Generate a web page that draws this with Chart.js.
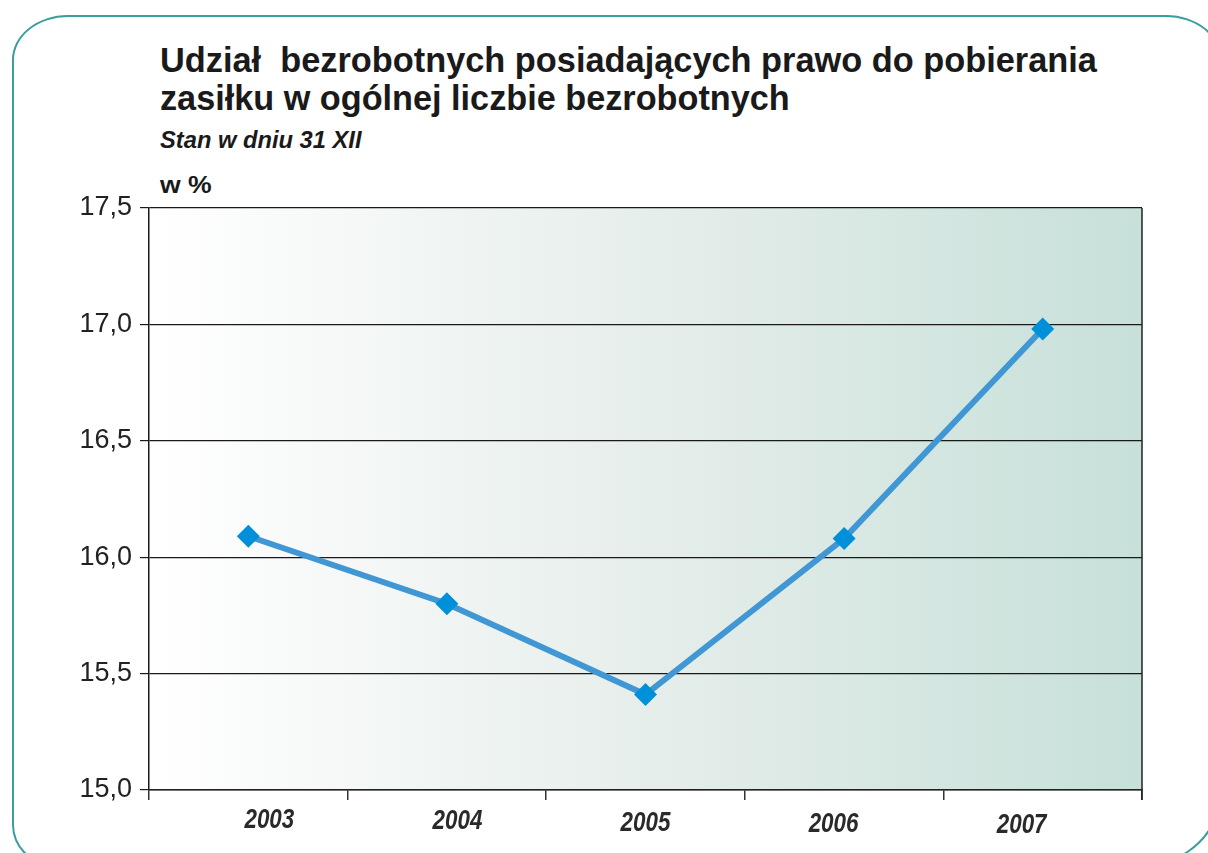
<!DOCTYPE html>
<html>
<head>
<meta charset="utf-8">
<script src="https://cdn.jsdelivr.net/npm/chart.js@4.4.1/dist/chart.umd.min.js"></script>
<style>
  html, body { margin:0; padding:0; background:#ffffff; }
  body { width:1208px; height:853px; position:relative; overflow:hidden; font-family:"Liberation Sans", Arial, sans-serif; }
  #frame { position:absolute; left:12px; top:15px; width:1210px; height:850px; box-sizing:border-box;
    border:2px solid #3a9e9b; border-radius:56px 56px 75px 40px / 45px 45px 75px 40px; }
  .t { position:absolute; left:160px; color:#1a1a1a; white-space:nowrap; transform-origin:0 0; }
  #t1 { top:40px; font-size:35px; font-weight:bold; }
  #t2 { top:78px; font-size:35px; font-weight:bold; }
  #t3 { top:127px; font-size:23px; font-weight:bold; font-style:italic; }
  #t4 { top:172px; font-size:23px; font-weight:bold; }
  #c { position:absolute; left:0; top:0; }
</style>
</head>
<body>
<div id="frame"></div>
<div class="t" id="t1">Udział&nbsp; bezrobotnych posiadających prawo do pobierania</div>
<div class="t" id="t2">zasiłku w ogólnej liczbie bezrobotnych</div>
<div class="t" id="t3">Stan w dniu 31 XII</div>
<div class="t" id="t4">w %</div>
<canvas id="c" width="1208" height="853"></canvas>
<script>
// ---- data ----
const years = ["2003", "2004", "2005", "2006", "2007"];
const shareEntitled = [16.09, 15.80, 15.41, 16.08, 16.98];
const yTicks = [15.0, 15.5, 16.0, 16.5, 17.0, 17.5];

// fit titles to measured widths in the reference
function fit(id, w) {
  const el = document.getElementById(id);
  const s = w / el.offsetWidth;
  el.style.transform = "scaleX(" + s + ")";
}
fit("t1", 937); fit("t2", 630); fit("t3", 202); fit("t4", 52);

const bgPlugin = {
  id: "bg",
  beforeDraw(chart) {
    const {ctx, chartArea:a} = chart;
    const g = ctx.createLinearGradient(a.left, 0, a.right, 0);
    g.addColorStop(0, "#ffffff");
    g.addColorStop(0.5, "#e6eeeb");
    g.addColorStop(1, "#c7e0d9");
    ctx.save();
    ctx.fillStyle = g;
    ctx.fillRect(a.left, a.top, a.right - a.left, a.bottom - a.top);
    ctx.restore();
  },
  afterDraw(chart) {
    const {ctx, chartArea:a} = chart;
    ctx.save();
    ctx.strokeStyle = "#222";
    ctx.lineWidth = 1.5;
    ctx.beginPath();
    ctx.moveTo(a.right, a.top);
    ctx.lineTo(a.right, a.bottom + 10);
    ctx.stroke();
    // category labels: narrow bold italic, drawn at the scale's own positions
    const xs = chart.scales.x;
    const mid = (a.left + a.right) / 2;
    ctx.fillStyle = "#2a2a2a";
    ctx.font = "italic bold 28px 'Liberation Sans', Arial, sans-serif";
    ctx.textAlign = "center";
    ctx.textBaseline = "alphabetic";
    years.forEach((lab, i) => {
      const px = xs.getPixelForValue(i);
      const cx = mid + (px - mid) * 0.947;
      const by = a.bottom + 38 + 1.3 * i;
      ctx.save();
      ctx.translate(cx, by);
      ctx.scale(0.8, 1);
      ctx.fillText(lab, 0, 0);
      ctx.restore();
    });
    ctx.restore();
  }
};

new Chart(document.getElementById("c"), {
  type: "line",
  data: {
    labels: years,
    datasets: [{
      data: shareEntitled,
      borderColor: "#4097d3",
      borderWidth: 6,
      pointStyle: "rectRot",
      pointRadius: 11.5,
      pointHoverRadius: 11.5,
      pointBackgroundColor: "#0090d9",
      pointBorderWidth: 0,
      tension: 0,
      clip: false
    }]
  },
  options: {
    responsive: false,
    animation: false,
    events: [],
    layout: { padding: { left: 0, top: 208, right: 66, bottom: 13 } },
    plugins: { legend: { display: false }, tooltip: { enabled: false } },
    scales: {
      x: {
        offset: true,
        grid: { offset: true, drawOnChartArea: false, drawTicks: true, tickLength: 10, color: "#333", lineWidth: 1.5 },
        border: { display: true, color: "#222", width: 1.5 },
        ticks: { display: false },
        afterFit(s) { s.height = 50; }
      },
      y: {
        min: yTicks[0], max: yTicks[yTicks.length - 1],
        afterBuildTicks(s) { s.ticks = yTicks.map(v => ({ value: v })); },
        grid: { color: "#1a1a1a", lineWidth: 1.2, tickLength: 9 },
        border: { display: true, color: "#1a1a1a", width: 1.5 },
        ticks: { color: "#222", padding: 8,
          font: { family: "'Liberation Sans', Arial, sans-serif", size: 27 },
          callback: v => v.toFixed(1).replace(".", ",") },
        afterFit(s) { s.width = 149; }
      }
    }
  },
  plugins: [bgPlugin]
});
</script>
</body>
</html>
